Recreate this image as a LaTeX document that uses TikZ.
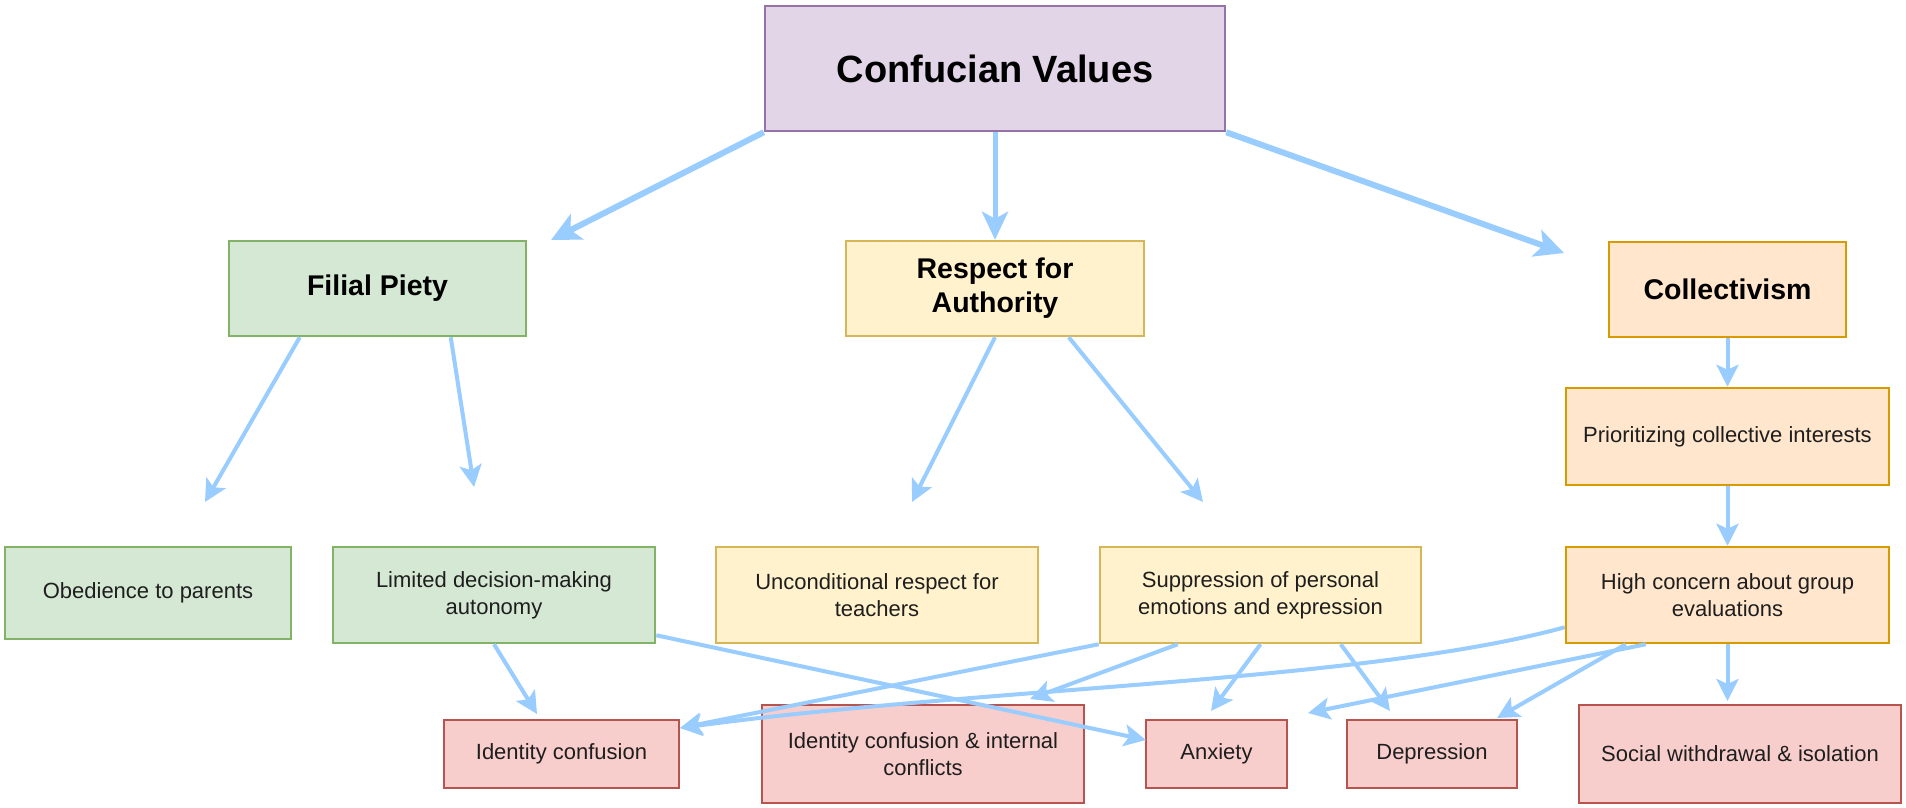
\documentclass[tikz,border=0pt]{standalone}
\usepackage{fontspec}
\setmainfont{Liberation Sans}
\usetikzlibrary{arrows.meta,calc}
\definecolor{pF}{HTML}{E1D5E7}\definecolor{pS}{HTML}{9673A6}
\definecolor{gF}{HTML}{D5E8D4}\definecolor{gS}{HTML}{82B366}
\definecolor{yF}{HTML}{FFF2CC}\definecolor{yS}{HTML}{D6B656}
\definecolor{oF}{HTML}{FFE6CC}\definecolor{oS}{HTML}{D79B00}
\definecolor{rF}{HTML}{F8CECC}\definecolor{rS}{HTML}{B85450}
\definecolor{arrowblue}{HTML}{99CCFF}
\definecolor{txt}{HTML}{1E1E1E}
\begin{document}
\begin{tikzpicture}[x=1pt,y=-1pt,
  box/.style={draw, line width=2.5pt, inner sep=0pt, align=center, text=txt,
    font=\fontsize{22}{27}\selectfont},
  pbox/.style={box, fill=pF, draw=pS},
  gbox/.style={box, fill=gF, draw=gS},
  ybox/.style={box, fill=yF, draw=yS},
  obox/.style={box, fill=oF, draw=oS},
  rbox/.style={box, fill=rF, draw=rS},
  headtxt/.style={text=black, font=\bfseries\fontsize{28.5}{34}\selectfont},
  conn/.style={draw=arrowblue, line width=4pt, -{Stealth[length=22pt,width=22pt,inset=5pt]}},
  bigconn/.style={draw=arrowblue, line width=6pt, -{Stealth[length=29pt,width=28pt,inset=7pt]}},
  midconn/.style={draw=arrowblue, line width=5pt, -{Stealth[length=28pt,width=26pt,inset=7pt]}}
]
\useasboundingbox (0,0) rectangle (1906,808);
\fill[white] (0,0) rectangle (1906,808);

% nodes
\node[pbox, minimum width=460pt, minimum height=125pt, text=black,
      font=\bfseries\fontsize{38}{44}\selectfont] (cv) at (995,68.5) {Confucian Values};
\node[gbox, headtxt, minimum width=297pt, minimum height=95pt] (fp) at (377.5,288.5) {Filial Piety};
\node[ybox, headtxt, minimum width=298pt, minimum height=95pt] (ra) at (995,288.5) {Respect for\\Authority};
\node[obox, headtxt, minimum width=237pt, minimum height=95pt] (co) at (1727.5,289.5) {Collectivism};
\node[obox, minimum width=323pt, minimum height=97pt] (pci) at (1727.5,436.5) {Prioritizing collective interests};

\node[gbox, minimum width=286pt, minimum height=92pt] (op) at (148,593) {Obedience to parents};
\node[gbox, minimum width=322pt, minimum height=96pt] (ld) at (494,595) {Limited decision-making\\autonomy};
\node[ybox, minimum width=322pt, minimum height=96pt] (ur) at (877,595) {Unconditional respect for\\teachers};
\node[ybox, minimum width=321pt, minimum height=96pt] (sp) at (1260.5,595) {Suppression of personal\\emotions and expression};
\node[obox, minimum width=323pt, minimum height=96pt] (hc) at (1727.5,595) {High concern about group\\evaluations};

\node[rbox, minimum width=235pt, minimum height=68pt] (ic) at (561.5,754) {Identity confusion};
\node[rbox, minimum width=322pt, minimum height=98pt] (icic) at (923,754) {Identity confusion \& internal\\conflicts};
\node[rbox, minimum width=141pt, minimum height=68pt] (ax) at (1216.5,754) {Anxiety};
\node[rbox, minimum width=170pt, minimum height=68pt] (dp) at (1432,754) {Depression};
\node[rbox, minimum width=322pt, minimum height=98pt] (sw) at (1740,754) {Social withdrawal \& isolation};

% free arrow ends
\coordinate (t1) at (551,240);
\coordinate (t3) at (1564,253);
\coordinate (t4) at (205,502);
\coordinate (t5) at (474,487);
\coordinate (t6) at (912,502);
\coordinate (t7) at (1203,502);
\coordinate (t10) at (1727.5,701);
\coordinate (t11) at (537,714);
\coordinate (t12) at (1146,740);
\coordinate (tic) at (680,728);
\coordinate (t14) at (1030,699);
\coordinate (t15) at (1211,711);
\coordinate (t16) at (1390,711);
\coordinate (t18) at (1308,713);
\coordinate (t19) at (1497,718);

% connectors
\draw[bigconn] (cv.south west) -- (t1);
\draw[midconn] (cv.south) -- (ra.north);
\draw[bigconn] (cv.south east) -- (t3);

\draw[conn] ([xshift=72pt]fp.south west) -- (t4);
\draw[conn] ([xshift=223pt]fp.south west) -- (t5);
\draw[conn] (ra.south) -- (t6);
\draw[conn] ([xshift=224pt]ra.south west) -- (t7);

\draw[conn] (co.south) -- (pci.north);
\draw[conn] (pci.south) -- (hc.north);
\draw[conn] (hc.south) -- (t10);

\draw[conn] (ld.south) -- (t11);
\draw[conn] ([yshift=9pt]ld.south east) -- (t12);

\draw[conn] (sp.south west) -- (tic);
\draw[conn] ([xshift=79pt]sp.south west) -- (t14);
\draw[conn] (sp.south) -- (t15);
\draw[conn] ([xshift=242pt]sp.south west) -- (t16);

\draw[conn] ([yshift=17pt]hc.south west) .. controls (1366,682) and (980,687.5) .. (tic);
\draw[conn] ([xshift=81pt]hc.south west) -- (t18);
\draw[conn] ([xshift=61pt]hc.south west) -- (t19);
\end{tikzpicture}
\end{document}
